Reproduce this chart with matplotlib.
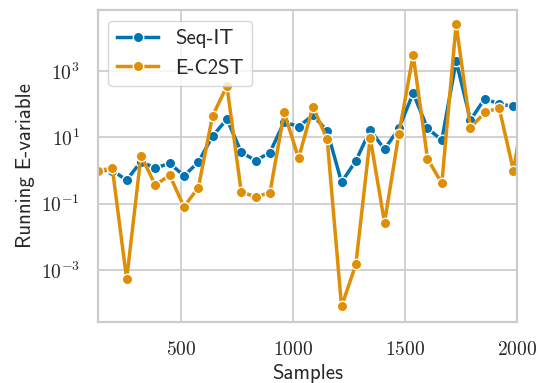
import matplotlib
matplotlib.use("Agg")
import matplotlib.pyplot as plt
from matplotlib.ticker import FixedLocator, NullLocator, FuncFormatter
import numpy as np

samples = [128, 192, 256, 320, 384, 448, 512, 576, 640, 704, 768, 832, 896, 960,
           1024, 1088, 1152, 1216, 1280, 1344, 1408, 1472, 1536, 1600, 1664, 1728,
           1792, 1856, 1920, 1984, 2048]
seq_it_log10 = [0.0, 0.0, -0.29, 0.27, 0.07, 0.22, -0.16, 0.25, 1.04, 1.55, 0.55,
                0.30, 0.54, 1.47, 1.32, 1.67, 1.19, -0.35, 0.29, 1.22, 0.64, 1.27,
                2.33, 1.27, 0.92, 3.30, 1.52, 2.17, 2.0, 1.94, 1.9]
e_c2st_log10 = [0.0, 0.07, -3.28, 0.45, -0.44, -0.14, -1.09, -0.52, 1.65, 2.55, -0.65,
                -0.79, -0.67, 1.75, 0.37, 1.92, 0.94, -4.1, -2.83, 0.99, -1.57, 1.10,
                3.48, 0.36, -0.39, 4.41, 1.29, 1.75, 1.89, 0.0, 2.6]
series_names = ["Seq-IT", "E-C2ST"]
x_ticks = [500, 1000, 1500, 2000]
y_ticks = [1e-3, 1e-1, 1e1, 1e3]

plt.rcParams["mathtext.fontset"] = "cm"

fig = plt.figure(figsize=(5.37, 3.83), dpi=100)
ax = fig.add_axes([0.1825, 0.160, 0.7803, 0.813])

colors = ["#0173b2", "#de8f05"]
for name, vals, c in zip(series_names, [seq_it_log10, e_c2st_log10], colors):
    ax.plot(samples, 10 ** np.array(vals), color=c, lw=2.5, marker="o", ms=7.5,
            mec="white", mew=1.0, label=name)

ax.set_yscale("log")
ax.set_xlim(128, 2000)
ax.set_ylim(10 ** -4.56, 10 ** 4.83)
ax.xaxis.set_major_locator(FixedLocator(x_ticks))
ax.yaxis.set_major_locator(FixedLocator(y_ticks))
ax.yaxis.set_minor_locator(NullLocator())
ax.xaxis.set_major_formatter(FuncFormatter(lambda v, p: r"$%d$" % v))
ax.yaxis.set_major_formatter(FuncFormatter(lambda v, p: r"$10^{%d}$" % round(np.log10(v))))

ax.grid(True, color="#cccccc", lw=1.25)
ax.set_axisbelow(True)
for s in ax.spines.values():
    s.set_color("#cccccc")
    s.set_linewidth(1.6)
ax.tick_params(axis="both", length=0, pad=13, labelsize=14, labelcolor="#262626")

ax.set_xlabel("Samples", fontfamily="cmss10", fontsize=15, color="#262626")
ax.set_ylabel("Running E-variable", fontfamily="cmss10", fontsize=15, color="#262626")

leg = ax.legend(loc="upper left", prop={"family": "cmss10", "size": 15},
                frameon=True, fancybox=True, edgecolor="#cccccc", framealpha=0.8,
                handlelength=2.0, borderaxespad=0.5)
for t in leg.get_texts():
    t.set_color("#262626")

fig.savefig("out.png", dpi=100)
